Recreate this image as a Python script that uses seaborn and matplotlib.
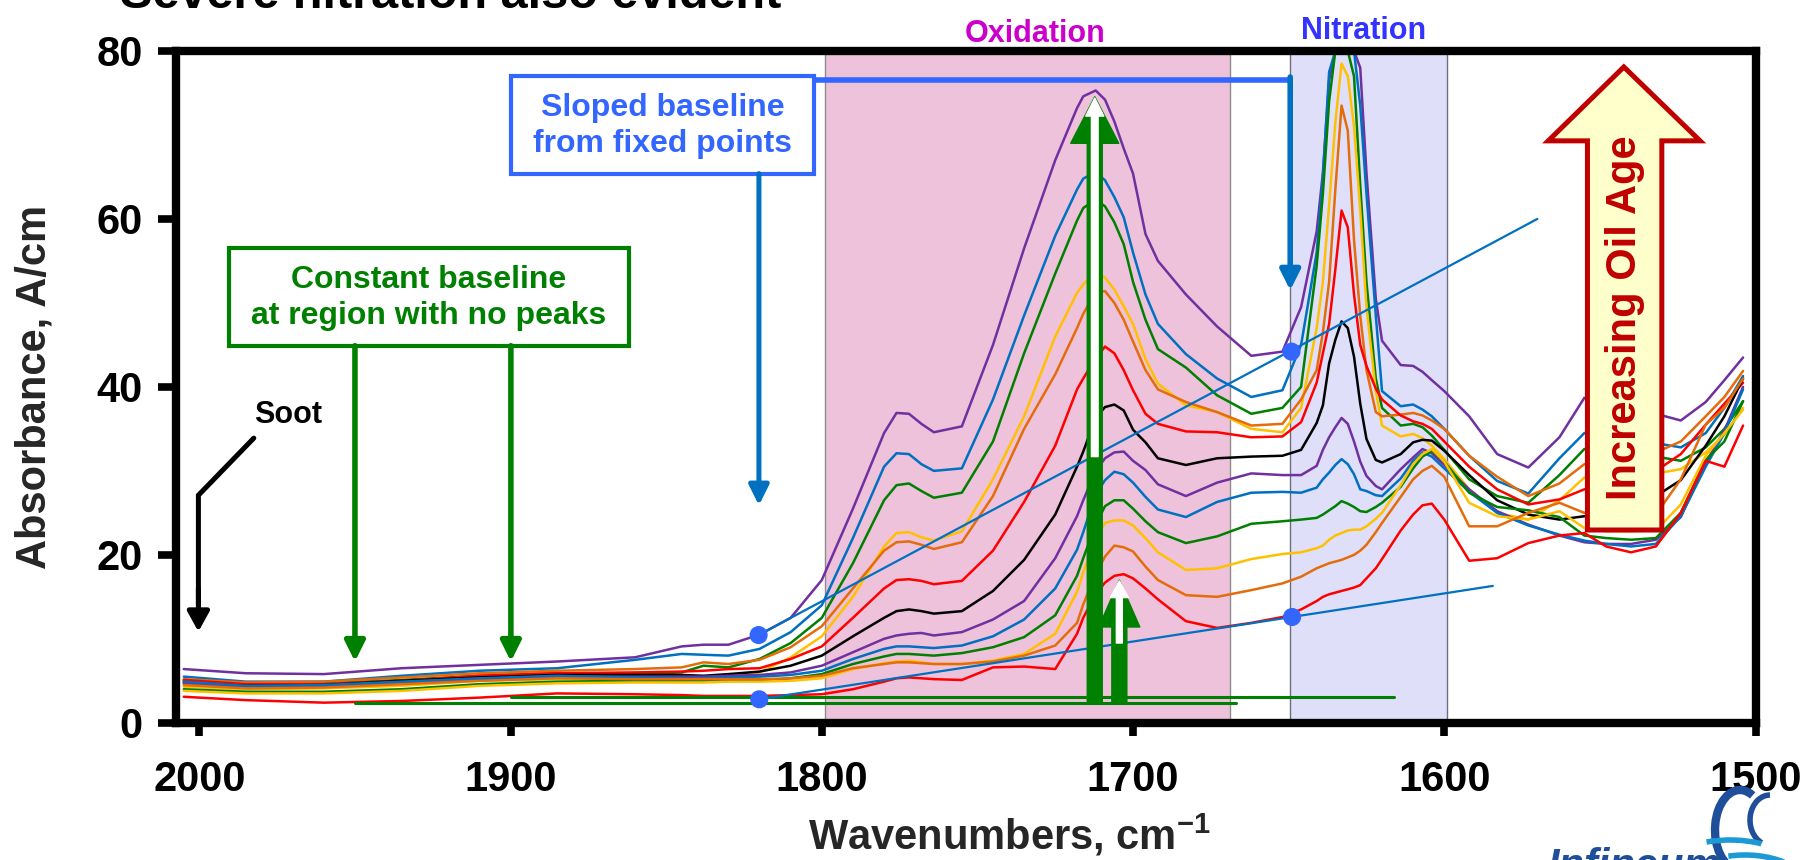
import pandas as pd
import seaborn as sns
import matplotlib.pyplot as plt
from matplotlib.patches import Rectangle, Polygon, Arc

sns.set_theme(style="white")
plt.rcParams['font.family'] = ['Liberation Sans', 'DejaVu Sans']
plt.rcParams['font.weight'] = 'bold'
plt.rcParams['mathtext.fontset'] = 'custom'
plt.rcParams['mathtext.rm'] = 'Liberation Sans:bold'
plt.rcParams['mathtext.bf'] = 'Liberation Sans:bold'
plt.rcParams['mathtext.default'] = 'bf'

wavenumber = [2005, 1985, 1960, 1935, 1910, 1885, 1860, 1845, 1838, 1830,
              1820, 1810, 1800, 1790, 1780, 1776, 1772, 1768, 1764, 1755,
              1745, 1735, 1725, 1718, 1716, 1712, 1709, 1706, 1703, 1700,
              1696, 1692, 1683, 1673, 1662, 1652, 1646, 1641, 1639, 1637,
              1635, 1633, 1631, 1629, 1627, 1625, 1622, 1620, 1614, 1610,
              1607, 1604, 1600, 1592, 1583, 1573, 1563, 1555, 1548, 1540,
              1532, 1524, 1516, 1510, 1504]

# absorbance, A/cm - most aged oil first
purple_1 = [6.4, 5.9, 5.8, 6.5, 6.9, 7.3, 7.8, 9.1, 9.3, 9.3,
            10.5, 12.5, 17.0, 25.5, 34.5, 36.9, 36.8, 35.6, 34.6, 35.3,
            45.0, 56.5, 67.0, 73.2, 74.6, 75.3, 74.2, 71.6, 68.4, 65.4,
            58.2, 55.0, 51.0, 47.2, 43.7, 44.2, 49.5, 58.5, 65.5, 76.5,
            80.0, 80.0, 80.0, 80.0, 78.0, 65.5, 50.5, 45.5, 42.6, 42.5,
            41.8, 40.8, 39.5, 36.5, 32.0, 30.4, 34.0, 38.7, 38.3, 37.5,
            36.8, 36.0, 38.2, 40.8, 43.5]
blue_1 = [5.5, 4.9, 4.9, 5.6, 6.2, 6.5, 7.5, 8.2, 8.1, 8.0,
          8.8, 10.8, 14.0, 22.0, 30.5, 32.1, 32.0, 30.8, 30.0, 30.3,
          38.5, 48.5, 58.0, 63.5, 64.8, 65.6, 64.6, 62.6, 60.2, 56.0,
          51.0, 47.5, 43.9, 41.0, 38.8, 39.6, 45.0, 56.0, 65.0, 77.5,
          80.0, 80.0, 80.0, 80.0, 73.5, 63.0, 48.5, 39.5, 37.7, 37.9,
          37.3, 36.5, 35.0, 31.8, 28.8, 27.3, 31.5, 34.5, 34.3, 33.8,
          33.3, 32.8, 34.5, 37.5, 41.3]
green_1 = [5.0, 4.6, 4.7, 5.1, 5.6, 5.9, 5.8, 6.0, 6.8, 6.6,
           7.6, 9.5, 12.5, 19.0, 26.5, 28.3, 28.5, 27.6, 26.8, 27.4,
           33.5, 44.0, 53.5, 59.8, 61.3, 62.3, 61.5, 59.6, 57.0, 52.5,
           48.0, 44.5, 42.3, 39.0, 36.8, 37.5, 40.0, 54.4, 63.0, 74.0,
           80.0, 80.0, 80.0, 77.0, 64.0, 52.5, 41.0, 37.5, 35.4, 35.6,
           35.2, 34.2, 32.5, 29.0, 27.0, 26.2, 29.5, 32.6, 32.4, 32.0,
           31.7, 31.2, 32.8, 35.0, 38.3]
yellow_1 = [4.3, 4.0, 4.1, 4.4, 5.0, 5.2, 5.3, 5.4, 5.4, 5.5,
            6.0, 7.8, 10.3, 15.0, 21.0, 22.6, 22.7, 22.1, 21.7, 22.8,
            29.0, 36.5, 46.0, 51.2, 52.2, 53.7, 53.0, 51.6, 49.6, 47.5,
            43.3, 40.4, 37.8, 37.0, 35.0, 34.6, 37.5, 47.0, 52.5, 61.6,
            71.5, 78.5, 77.0, 71.0, 61.0, 49.5, 39.5, 35.4, 34.1, 34.4,
            33.9, 33.0, 31.4, 27.8, 25.0, 24.2, 26.5, 29.2, 29.3, 29.5,
            29.7, 30.2, 32.2, 34.3, 37.5]
orange_1 = [5.2, 4.8, 4.9, 5.4, 5.9, 6.2, 6.4, 6.6, 7.2, 7.0,
            7.5, 9.0, 11.5, 16.0, 20.5, 21.5, 21.6, 21.2, 20.7, 21.5,
            27.0, 35.0, 41.5, 47.0, 48.7, 51.3, 51.4, 50.0, 48.0, 45.4,
            42.0, 39.7, 38.2, 37.0, 35.4, 35.6, 38.5, 42.0, 46.5, 52.5,
            63.5, 73.5, 70.5, 57.5, 48.5, 42.0, 37.0, 36.5, 36.7, 36.9,
            36.6, 36.0, 35.0, 31.8, 29.3, 27.0, 28.5, 30.8, 31.0, 31.5,
            32.2, 33.5, 36.5, 38.8, 41.9]
red_1 = [5.1, 4.6, 4.6, 5.0, 5.6, 5.9, 6.0, 6.1, 6.2, 6.4,
         6.5, 7.6, 9.1, 12.5, 16.0, 17.0, 17.1, 16.9, 16.5, 16.9,
         20.5, 26.3, 33.0, 39.7, 41.0, 43.4, 44.8, 44.0, 42.0, 39.6,
         36.8, 35.6, 34.7, 34.6, 34.0, 34.1, 35.8, 40.5, 44.0, 47.5,
         54.0, 61.0, 59.0, 51.0, 45.0, 42.5, 39.8, 38.5, 36.6, 35.9,
         35.6, 35.0, 33.5, 30.5, 27.8, 26.0, 26.6, 27.8, 28.3, 29.0,
         30.0, 32.0, 35.5, 38.0, 40.5]
black_1 = [4.8, 4.4, 4.5, 5.0, 5.4, 5.7, 5.7, 5.7, 5.6, 5.8,
           6.1, 6.8, 8.0, 10.3, 12.5, 13.3, 13.5, 13.3, 13.0, 13.3,
           15.7, 19.4, 24.8, 30.5, 32.3, 36.3, 37.6, 37.9, 37.2, 34.9,
           33.4, 31.5, 30.7, 31.5, 31.7, 31.8, 32.5, 35.7, 37.8, 42.8,
           45.6, 47.8, 47.0, 43.6, 38.0, 33.8, 31.3, 31.0, 32.0, 33.4,
           33.7, 33.6, 32.4, 29.5, 26.5, 24.8, 24.2, 24.6, 25.0, 25.8,
           27.0, 28.9, 33.0, 36.5, 41.0]
purple_2 = [4.7, 4.3, 4.4, 4.8, 5.2, 5.5, 5.5, 5.5, 5.5, 5.6,
            5.7, 6.0, 6.8, 8.4, 10.0, 10.4, 10.6, 10.7, 10.4, 10.8,
            12.3, 14.5, 19.6, 24.6, 26.5, 30.0, 31.5, 32.2, 32.3, 31.2,
            30.1, 28.4, 27.0, 28.6, 29.7, 29.5, 29.5, 30.6, 32.5, 34.0,
            35.2, 36.3, 35.6, 33.5, 31.1, 29.4, 28.2, 27.8, 30.2, 31.6,
            32.6, 32.1, 30.7, 27.8, 25.2, 23.6, 22.3, 21.5, 21.3, 21.3,
            21.8, 24.5, 31.0, 34.8, 40.0]
blue_2 = [4.9, 4.4, 4.5, 4.9, 5.3, 5.6, 5.4, 5.3, 5.3, 5.4,
          5.5, 5.7, 6.2, 7.6, 8.8, 9.1, 9.1, 9.0, 8.9, 9.2,
          10.3, 12.3, 16.0, 20.6, 22.7, 27.2, 28.9, 29.9, 29.6, 28.6,
          26.9, 25.4, 24.5, 26.3, 27.4, 27.5, 27.4, 28.0, 29.0, 29.8,
          30.7, 31.4, 30.8, 29.6, 27.8, 27.6, 27.1, 27.0, 29.1, 31.2,
          32.2, 31.7, 30.3, 27.5, 25.0, 23.5, 22.4, 21.7, 21.3, 21.0,
          21.3, 24.6, 30.5, 34.5, 39.7]
green_2 = [4.0, 3.7, 3.7, 4.0, 4.6, 4.9, 5.0, 5.0, 5.0, 5.0,
           5.0, 5.3, 5.8, 7.0, 7.9, 8.2, 8.2, 8.1, 8.0, 8.3,
           9.0, 10.2, 12.8, 17.5, 19.6, 23.6, 25.8, 26.5, 26.5, 25.5,
           24.0, 22.7, 21.4, 22.2, 23.7, 24.0, 24.2, 24.4, 24.8, 25.3,
           25.8, 26.4, 26.1, 25.7, 25.2, 25.1, 25.7, 26.2, 28.1, 30.3,
           31.7, 32.4, 31.1, 27.4, 25.7, 25.3, 24.5, 22.3, 22.0, 21.8,
           22.0, 25.0, 31.3, 33.5, 38.3]
yellow_2 = [3.8, 3.5, 3.5, 3.8, 4.4, 4.7, 4.8, 4.8, 4.8, 4.9,
            4.9, 5.0, 5.3, 6.4, 7.1, 7.3, 7.4, 7.2, 7.0, 7.0,
            7.4, 8.2, 10.6, 15.6, 17.9, 22.0, 23.8, 24.1, 24.1, 23.5,
            22.0, 20.3, 18.2, 18.4, 19.5, 20.1, 20.3, 20.8, 21.1, 21.8,
            22.3, 22.6, 22.9, 23.0, 23.0, 23.4, 24.3, 25.0, 28.3, 30.8,
            32.0, 32.6, 31.1, 26.2, 24.6, 24.2, 25.2, 23.2, 22.8, 22.8,
            22.9, 26.0, 31.8, 34.5, 37.3]
orange_2 = [4.5, 4.1, 4.2, 4.6, 5.0, 5.3, 5.2, 5.2, 5.2, 5.2,
            5.2, 5.3, 5.6, 6.5, 7.0, 7.2, 7.2, 7.1, 7.0, 7.0,
            7.3, 8.0, 9.2, 11.9, 14.1, 17.7, 19.8, 21.1, 20.9, 20.4,
            18.6, 17.0, 15.2, 15.0, 15.8, 16.6, 17.4, 18.4, 18.7, 19.0,
            19.2, 19.4, 19.7, 20.0, 20.5, 21.2, 22.7, 23.8, 26.9, 29.0,
            30.0, 30.6, 29.3, 23.4, 23.4, 25.0, 26.2, 25.0, 24.8, 24.6,
            24.8, 29.0, 35.5, 37.5, 41.0]
red_2 = [3.1, 2.7, 2.4, 2.6, 3.0, 3.5, 3.4, 3.3, 3.2, 3.2,
         3.2, 3.3, 3.4, 4.0, 4.9, 5.3, 5.4, 5.3, 5.2, 5.1,
         6.6, 6.7, 6.4, 10.6, 12.5, 15.3, 16.7, 17.5, 17.7, 17.2,
         16.0, 14.7, 12.1, 11.3, 11.9, 12.6, 13.5, 14.5, 15.0, 15.3,
         15.5, 15.7, 15.9, 16.1, 16.4, 17.2, 18.4, 19.5, 22.9, 24.8,
         25.9, 26.1, 24.2, 19.3, 19.6, 21.4, 22.3, 22.6, 21.0, 20.3,
         21.0, 25.0, 31.2, 30.5, 35.4]

spectra = [purple_1, blue_1, green_1, yellow_1, orange_1, red_1, black_1,
           purple_2, blue_2, green_2, yellow_2, orange_2, red_2]
sample_names = ["s13", "s12", "s11", "s10", "s09", "s08", "s07",
                "s06", "s05", "s04", "s03", "s02", "s01"]
sample_colors = ["#7030A0", "#0070C0", "#008000", "#FFC000", "#E46C0A", "#FF0000", "#000000",
                 "#7030A0", "#0070C0", "#008000", "#FFC000", "#E46C0A", "#FF0000"]

# fixed points used for the sloped baselines
fixed_wn = [1820.3, 1820.1, 1649.1, 1648.9]
fixed_abs = [10.45, 2.8, 44.2, 12.6]

rows = []
for name, vals in zip(sample_names, spectra):
    for w, a in zip(wavenumber, vals):
        rows.append({"wn": w, "absorbance": a, "sample": name})
df = pd.DataFrame(rows)

fig = plt.figure(figsize=(18.06, 8.6), dpi=100)
ax = fig.add_axes([0.09745, 0.15953, 0.87459, 0.78117])

# oxidation / nitration regions
ax.axvspan(1799, 1668.7, facecolor="#EEC2DA", edgecolor="#8C8C8C", lw=1, zorder=0)
ax.axvspan(1649.5, 1599.2, facecolor="#DFDFFA", edgecolor="#6E6E80", lw=1, zorder=0)

sns.lineplot(data=df, x="wn", y="absorbance", hue="sample", hue_order=sample_names,
             palette=dict(zip(sample_names, sample_colors)), estimator=None, sort=False,
             lw=1.8, legend=False, ax=ax, zorder=2)

# baselines
ax.plot([1900, 1616], [3.1, 3.1], color="#008000", lw=2.2, zorder=3)
ax.plot([1950, 1667], [2.4, 2.4], color="#008000", lw=2.2, zorder=3)
ax.plot([1820.3, 1570.1], [10.45, 60.0], color="#0070C0", lw=1.6, zorder=3)
ax.plot([1820.1, 1584.4], [2.8, 16.3], color="#0070C0", lw=1.6, zorder=3)
sns.scatterplot(x=fixed_wn, y=fixed_abs, color="#3366FF", s=170, edgecolor="none", ax=ax, zorder=4)

ax.set_xlim(2007.5, 1500)
ax.set_ylim(0, 80)
ax.set_xticks([2000, 1900, 1800, 1700, 1600, 1500])
ax.set_yticks([0, 20, 40, 60, 80])
ax.set_xlabel("")
ax.set_ylabel("")
ax.tick_params(bottom=True, left=True, direction="out", width=5.5, color="black",
               labelsize=30, labelcolor="black")
ax.tick_params(axis="x", length=9, pad=18)
ax.tick_params(axis="y", length=13, pad=11)
for lbl in ax.get_xticklabels() + ax.get_yticklabels():
    lbl.set_fontweight("bold")
for sp in ax.spines.values():
    sp.set_linewidth(6)
    sp.set_color("black")
    sp.set_capstyle("projecting")

fig.text(35 / 1806, 1 - 387 / 860, "Absorbance, A/cm", rotation=90, ha="center", va="center",
         fontsize=30, fontweight="bold")
fig.text(1009 / 1806, 1 - 850 / 860, r"Wavenumbers, cm$^{-1}$", ha="center", va="baseline",
         fontsize=30, fontweight="bold")
# slide title, mostly above the top edge as in the source
fig.text(120 / 1806, 1 - 8 / 860, "Severe nitration also evident", ha="left", va="baseline",
         fontsize=35, fontweight="bold", color="black")

ax.text(1731.4, 81.1, "Oxidation", color="#CC00CC", fontsize=22, fontweight="bold",
        ha="center", va="baseline", clip_on=False)
ax.text(1625.8, 81.4, "Nitration", color="#3333FF", fontsize=22, fontweight="bold",
        ha="center", va="baseline", clip_on=False)

thin_head = "-|>,head_length=0.6,head_width=0.3"

# constant baseline note
ax.add_patch(Rectangle((1861.9, 44.9), 128.6, 11.6, fill=False, edgecolor="#008000", lw=3, zorder=5))
ax.text(1926.2, 50.6, "Constant baseline\nat region with no peaks", color="#008000", fontsize=23,
        fontweight="bold", ha="center", va="center", linespacing=1.25, zorder=5)
for w in [1950.0, 1899.9]:
    ax.annotate("", xy=(w, 7.3), xytext=(w, 44.9),
                arrowprops=dict(arrowstyle=thin_head, color="#008000",
                                lw=4, shrinkA=0, shrinkB=0, mutation_scale=20), zorder=5)

# sloped baseline note
ax.add_patch(Rectangle((1802.5, 65.4), 97.4, 11.6, fill=False, edgecolor="#3366FF", lw=3, zorder=5))
ax.text(1851.2, 71.1, "Sloped baseline\nfrom fixed points", color="#3366FF", fontsize=23,
        fontweight="bold", ha="center", va="center", linespacing=1.25, zorder=5)
ax.annotate("", xy=(1820.2, 25.9), xytext=(1820.2, 65.4),
            arrowprops=dict(arrowstyle=thin_head, color="#0070C0",
                            lw=3.6, shrinkA=0, shrinkB=0, mutation_scale=20), zorder=5)
ax.plot([1802.5, 1649.5], [76.6, 76.6], color="#3366FF", lw=4, zorder=5, solid_capstyle="butt")
ax.annotate("", xy=(1649.5, 51.5), xytext=(1649.5, 76.9),
            arrowprops=dict(arrowstyle=thin_head, color="#0070C0",
                            lw=4, shrinkA=0, shrinkB=0, mutation_scale=20), zorder=5)

# soot
ax.plot([1982.5, 2000.3, 2000.3], [33.9, 27.1, 14.0], color="black", lw=3.6, zorder=5,
        solid_joinstyle="miter")
ax.annotate("", xy=(2000.3, 10.85), xytext=(2000.3, 16.0),
            arrowprops=dict(arrowstyle="-|>,head_length=0.6,head_width=0.33", color="black",
                            lw=3.6, shrinkA=0, shrinkB=0, mutation_scale=20), zorder=5)
ax.text(1971.6, 36.65, "Soot", color="black", fontsize=22, fontweight="bold",
        ha="center", va="center", zorder=5)

# big green arrows showing peak growth
ax.annotate("", xy=(1712.3, 74.55), xytext=(1712.3, 2.5),
            arrowprops=dict(arrowstyle="simple,head_length=33.5,head_width=34.6,tail_width=10.8",
                            color="#008000", shrinkA=0, shrinkB=0, mutation_scale=1), zorder=6)
ax.annotate("", xy=(1712.3, 74.4), xytext=(1712.3, 31.7),
            arrowprops=dict(arrowstyle="simple,head_length=13,head_width=13,tail_width=4.8",
                            color="white", shrinkA=0, shrinkB=0, mutation_scale=1), zorder=7)
ax.annotate("", xy=(1704.4, 17.0), xytext=(1704.4, 2.5),
            arrowprops=dict(arrowstyle="simple,head_length=33.8,head_width=29.5,tail_width=10.8",
                            color="#008000", shrinkA=0, shrinkB=0, mutation_scale=1), zorder=6)
ax.annotate("", xy=(1704.4, 16.9), xytext=(1704.4, 9.5),
            arrowprops=dict(arrowstyle="simple,head_length=12,head_width=13,tail_width=4.3",
                            color="white", shrinkA=0, shrinkB=0, mutation_scale=1), zorder=7)

# increasing oil age arrow
oil_arrow = Polygon([(1542.3, 78.1), (1517.8, 69.3), (1530.1, 69.3), (1530.1, 22.96),
                     (1554.0, 22.96), (1554.0, 69.3), (1566.6, 69.3)], closed=True,
                    facecolor="#FFFFCC", edgecolor="#C00000", lw=3.6, joinstyle="miter", zorder=6)
ax.add_patch(oil_arrow)
ax.text(1541.8, 48.3, "Increasing Oil Age", rotation=90, color="#C00000", fontsize=30,
        fontweight="bold", ha="center", va="center", zorder=7)

# logo fragment bottom right
fig.text(1547 / 1806, 1 - 847 / 860, "Infineum", ha="left", va="top", fontsize=30,
         fontweight="bold", fontstyle="italic", color="#1F4E9A")
lax = fig.add_axes([1660 / 1806, 0, 146 / 1806, 75 / 860])
lax.set_xlim(0, 146)
lax.set_ylim(0, 75)
lax.axis("off")
lax.add_patch(Arc((80, 30), 50, 80, theta1=70, theta2=250, color="#1F4E9A", lw=6))
lax.add_patch(Arc((110, 40), 40, 50, theta1=90, theta2=250, color="#1F4E9A", lw=4))
lax.add_patch(Arc((70, -10), 130, 60, theta1=40, theta2=130, color="#1B9AD6", lw=4))
lax.add_patch(Arc((85, -25), 120, 60, theta1=30, theta2=120, color="#1B9AD6", lw=4))

fig.savefig("out.png", dpi=100)
